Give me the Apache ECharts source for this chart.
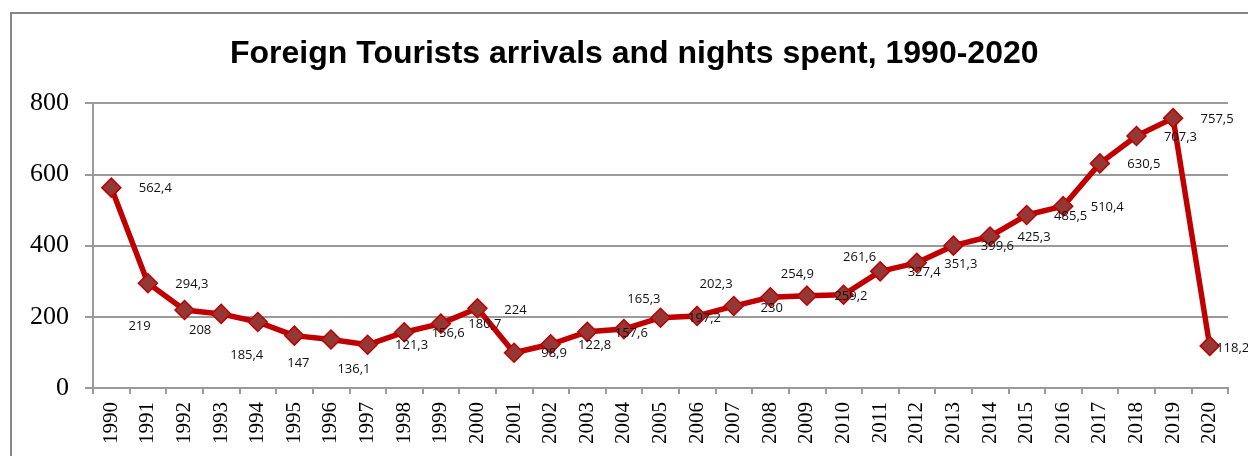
<!DOCTYPE html>
<html>
<head>
<meta charset="utf-8">
<script src="https://cdn.jsdelivr.net/npm/echarts@6/dist/echarts.min.js"></script>
<style>
  html, body { margin: 0; padding: 0; background: #fff; }
  #chart { width: 1248px; height: 456px; }
</style>
</head>
<body>
<div id="chart"></div>
<script>
const years = ['1990', '1991', '1992', '1993', '1994', '1995', '1996', '1997', '1998', '1999',
  '2000', '2001', '2002', '2003', '2004', '2005', '2006', '2007', '2008', '2009',
  '2010', '2011', '2012', '2013', '2014', '2015', '2016', '2017', '2018', '2019', '2020']

const tourists = [562.4, 294.3, 219, 208, 185.4, 147, 136.1, 121.3, 156.6, 180.7,
  224, 98.9, 122.8, 157.6, 165.3, 197.2, 202.3, 230, 254.9, 259.2,
  261.6, 327.4, 351.3, 399.6, 425.3, 485.5, 510.4, 630.5, 707.3, 757.5, 118.2]

// where each value label sits relative to its marker (px), default is to the right
const defaultOffset = [44, 1]
const labelOffsets = {
  '1992': [-45, 16],
  '1993': [-21, 16],
  '1994': [-11, 33],
  '1995': [4, 28],
  '1996': [23, 30],
  '2000': [38, 2],
  '2001': [40, 1],
  '2004': [20, -30],
  '2006': [19, -32],
  '2007': [38, 2],
  '2008': [27, -23],
  '2010': [16, -38],
  '2020': [23, 2]
}

const fmt = (v) => String(v).replace('.', ',')

const chart = echarts.init(document.getElementById('chart'), null, { renderer: 'canvas' })

const option = {
  animation: false,
  title: {
    text: 'Foreign Tourists arrivals and nights spent, 1990-2020',
    left: 230,
    top: 38,
    padding: 0,
    textStyle: {
      fontFamily: 'Liberation Sans, Arial, sans-serif',
      fontSize: 32,
      fontWeight: 'bold',
      color: '#000'
    }
  },
  graphic: [
    {
      type: 'rect',
      shape: { x: 11, y: 13, width: 1260, height: 470 },
      style: { fill: 'none', stroke: '#868686', lineWidth: 2 },
      silent: true
    }
  ],
  grid: { left: 93, right: 20, top: 103, bottom: 68 },
  xAxis: {
    type: 'category',
    data: years,
    boundaryGap: true,
    axisLine: { show: true, lineStyle: { color: '#9a9a9a', width: 2 } },
    axisTick: { show: true, length: 6, lineStyle: { color: '#9a9a9a', width: 2 } },
    axisLabel: {
      rotate: 90,
      margin: 14,
      interval: 0,
      fontFamily: 'Liberation Serif, Times New Roman, serif',
      fontSize: 21,
      color: '#000'
    },
    splitLine: { show: false }
  },
  yAxis: {
    type: 'value',
    min: 0,
    max: 800,
    interval: 200,
    axisLine: { show: true, lineStyle: { color: '#9a9a9a', width: 2 } },
    axisTick: { show: true, length: 8, lineStyle: { color: '#9a9a9a', width: 2 } },
    axisLabel: {
      margin: 24,
      fontFamily: 'Liberation Serif, Times New Roman, serif',
      fontSize: 26,
      color: '#000'
    },
    splitLine: { show: true, lineStyle: { color: '#9a9a9a', width: 2 } }
  },
  series: [
    {
      name: 'Foreign tourists',
      type: 'line',
      data: tourists,
      symbol: 'diamond',
      symbolSize: 19,
      lineStyle: { color: '#c00000', width: 5.5 },
      itemStyle: { color: '#953735', borderColor: '#c00000', borderWidth: 1.5 },
      label: {
        show: true,
        position: 'inside',
        formatter: (p) => fmt(p.value),
        fontFamily: 'Open Sans, Noto Sans, sans-serif',
        fontSize: 13,
        color: '#111'
      },
      labelLayout: (params) => {
        const off = labelOffsets[years[params.dataIndex]] || defaultOffset
        return { dx: off[0], dy: off[1], hideOverlap: false }
      },
      z: 3
    }
  ]
}

chart.setOption(option)
</script>
</body>
</html>
